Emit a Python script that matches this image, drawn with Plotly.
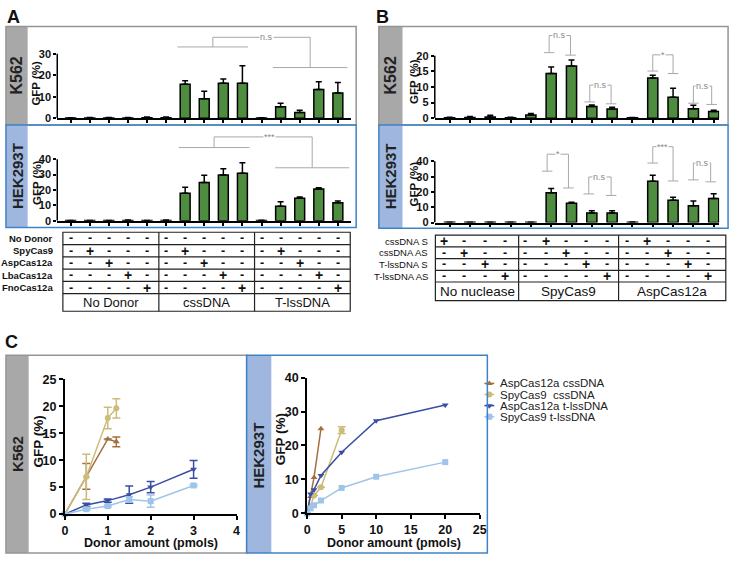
import plotly.graph_objects as go

W, H = 740, 564
FONT = "Liberation Sans, Arial, Helvetica, sans-serif"

GREEN = "#4e8c3f"
GREY_STRIP, GREY_LINE = "#a8a8a8", "#959595"
BLUE_STRIP, BLUE_LINE = "#9fb7de", "#3f83c6"
BRACKET = "#a8a8a8"
INK = "#111111"

# ---------- A : GFP (%) for 15 conditions ----------
a_rows = ["No Donor", "SpyCas9", "AspCas12a", "LbaCas12a", "FnoCas12a"]
a_groups = ["No Donor", "cssDNA", "T-lssDNA"]
a_signs = [
    "---------------",
    "-+----+----+---",
    "--+----+----+--",
    "---+----+----+-",
    "----+----+----+",
]
a_k562_mean = [0.05, 0.1, 0.1, 0.1, 0.2, 0.2, 15.8, 9.0, 16.3, 16.3, 0.1, 5.3, 2.6, 13.4, 11.7]
a_k562_err = [0.1, 0.2, 0.2, 0.2, 0.3, 0.3, 1.6, 3.5, 2.0, 8.1, 0.1, 1.7, 1.1, 3.6, 4.9]
a_hek_mean = [0.2, 0.2, 0.2, 0.3, 0.2, 0.3, 17.9, 24.8, 29.7, 30.9, 0.3, 9.5, 14.7, 20.6, 11.8]
a_hek_err = [0.1, 0.1, 0.1, 0.2, 0.1, 0.2, 3.8, 4.7, 4.0, 6.8, 0.1, 2.9, 0.7, 0.9, 1.0]
# label, (left span x0, x1, y), (right span x0, x1, y), top y, label x
a_k562_sig = ("n.s", (6.6, 10.3, 33.2), (11.6, 15.5, 23.6), 37.7, 11.25)
a_hek_sig = ("***", (6.66, 10.37, 47.5), (11.72, 15.59, 34.4), 54.4, 11.4)

# ---------- B : GFP (%) for 14 conditions ----------
b_rows = ["cssDNA S", "cssDNA AS", "T-lssDNA S", "T-lssDNA AS"]
b_groups = ["No nuclease", "SpyCas9", "AspCas12a"]
b_signs = [
    "+----+----+---",
    "-+----+----+--",
    "--+----+----+-",
    "---+----+----+",
]
b_k562_mean = [0.1, 0.2, 0.4, 0.1, 1.0, 14.3, 16.7, 3.75, 2.9, 0.1, 12.9, 6.7, 3.0, 2.1]
b_k562_err = [0.2, 0.3, 0.5, 0.2, 0.5, 2.1, 1.9, 0.45, 0.6, 0.1, 0.85, 2.9, 1.1, 0.4]
b_hek_mean = [0.1, 0.1, 0.1, 0.1, 0.1, 19.4, 12.6, 6.2, 6.2, 0.2, 27.0, 14.5, 10.9, 15.7]
b_hek_err = [0.1, 0.1, 0.1, 0.1, 0.1, 2.9, 0.6, 1.5, 1.5, 0.1, 3.9, 2.1, 3.1, 3.2]
# label, left leg x, right leg x, left foot y, right foot y, top y
b_k562_sig = [("n.s", 5.9, 6.95, 21.0, 20.2, 26.5), ("n.s", 7.9, 8.95, 5.2, 4.6, 10.6),
              ("*", 11.0, 12.0, 15.1, 14.3, 20.3), ("n.s", 13.0, 13.9, 4.8, 4.4, 10.3)]
b_hek_sig = [("*", 5.8, 6.85, 33.6, 22.6, 44.7), ("n.s", 7.85, 8.95, 18.7, 17.7, 29.8),
             ("***", 11.0, 12.0, 38.9, 27.2, 49.6), ("n.s", 13.0, 13.85, 27.9, 26.6, 38.9)]

# ---------- C : dose response ----------
c_names = ["AspCas12a cssDNA", "SpyCas9  cssDNA", "AspCas12a t-lssDNA", "SpyCas9 t-lssDNA"]
c_colors = ["#a3703b", "#cbbc7b", "#3a4ea3", "#9fc4ea"]
c_symbols = ["triangle-up", "circle", "triangle-down", "square"]
c_k562_x = [[0, 0.5, 1, 1.2], [0, 0.5, 1, 1.2], [0, 0.5, 1, 1.5, 2, 3], [0, 0.5, 1, 1.5, 2, 3]]
c_k562_y = [[0, 7.0, 13.9, 13.4], [0, 6.9, 17.8, 19.6],
            [0, 1.7, 2.5, 3.6, 5.0, 8.3], [0, 0.9, 1.5, 2.7, 2.4, 5.3]]
c_k562_e = [[0, 2.4, 0, 0.9], [0, 4.2, 2.0, 1.8],
            [0, 0.3, 0.3, 1.6, 1.05, 1.65], [0, 0.2, 0.2, 0.5, 1.15, 0.2]]
c_hek_x = [[0, 0.5, 1, 2], [0, 0.5, 1, 2, 5], [0, 0.5, 1, 2, 5, 10, 20], [0, 0.5, 1, 2, 5, 10, 20]]
c_hek_y = [[0, 5.0, 10.6, 24.9], [0, 2.2, 5.3, 7.7, 24.5],
           [0, 5.7, 7.0, 11.2, 18.0, 27.3, 31.9], [0, 1.5, 2.4, 3.8, 7.5, 10.8, 15.1]]
c_hek_e = [[0, 0, 0, 0], [0, 0, 0, 0, 1.0], [0] * 7, [0] * 7]

shapes, notes = [], []


def xdom(left, right):
    return [left / W, right / W]


def line(x0, y0, x1, y1, color=INK, width=1.2, xref="x7", yref="y7", layer="above"):
    shapes.append(dict(type="line", x0=x0, y0=y0, x1=x1, y1=y1, xref=xref, yref=yref,
                       layer=layer, line=dict(color=color, width=width)))


def box(x0, y0, x1, y1, color=None, fill=None, width=1.5):
    shapes.append(dict(type="rect", x0=x0, y0=y0, x1=x1, y1=y1, xref="x7", yref="y7",
                       line=dict(color=color or "rgba(0,0,0,0)", width=width if color else 0),
                       fillcolor=fill or "rgba(0,0,0,0)"))


def text(x, y, s, size, bold=False, color=INK, xref="x7", yref="y7", angle=0,
         xanchor="center", bg=None):
    d = dict(x=x, y=y, xref=xref, yref=yref, text=s, showarrow=False, textangle=angle,
             xanchor=xanchor, yanchor="middle",
             font=dict(size=size, color=color, family=FONT, weight="bold" if bold else "normal"))
    if bg:
        d.update(bgcolor=bg, borderpad=0)
    notes.append(d)


fig = go.Figure()

# ---------- frames ----------
for x0, y0, x1, y1, sx in [(3, 20, 358, 121, 25), (381, 20, 735, 121, 405), (3, 357, 247, 560, 26)]:
    box(x0, y0, sx, y1, fill=GREY_STRIP)
    box(x0, y0, x1, y1, color=GREY_LINE)
for x0, y0, x1, y1, sx in [(3, 121, 358, 226, 25), (381, 121, 735, 227, 405), (247, 357, 491, 560, 272)]:
    box(x0, y0, sx, y1, fill=BLUE_STRIP)
    box(x0, y0, x1, y1, color=BLUE_LINE)

for x, y, s, size in [(14, 70.5, "K562", 16), (14, 173.5, "HEK293T", 15), (393, 70.5, "K562", 16),
                      (393, 174, "HEK293T", 15), (14.5, 458, "K562", 15), (259.5, 460, "HEK293T", 15)]:
    text(x, y, s, size, bold=True, color="#222222", angle=-90)

for x, y, s in [(11, 10, "A"), (385, 10, "B"), (9, 344, "C")]:
    text(x, y, s, 18, bold=True)

# ---------- bar panels ----------
bar_axes = [
    dict(i="", mean=a_k562_mean, err=a_k562_err, xd=(55, 353), xr=(0.3, 15.7), y0=114, per=2.2,
         top=42, ticks=[0, 10, 20, 30], width=0.52),
    dict(i="2", mean=a_hek_mean, err=a_hek_err, xd=(55, 353), xr=(0.3, 15.7), y0=219.3, per=1.5825,
         top=58, ticks=[0, 10, 20, 30, 40], width=0.52),
    dict(i="3", mean=b_k562_mean, err=b_k562_err, xd=(437.7, 726), xr=(0.27, 14.27), y0=114, per=3.2,
         top=29, ticks=[0, 5, 10, 15, 20], width=0.5),
    dict(i="4", mean=b_hek_mean, err=b_hek_err, xd=(437.7, 726), xr=(0.27, 14.27), y0=221, per=1.5675,
         top=60, ticks=[0, 10, 20, 30, 40], width=0.5),
]
for p in bar_axes:
    n = len(p["mean"])
    xs = list(range(1, n + 1))
    i = p["i"]
    fig.add_trace(go.Bar(
        x=xs, y=p["mean"], width=p["width"], xaxis="x" + i, yaxis="y" + i,
        marker=dict(color=GREEN, line=dict(color="black", width=1.5)),
        error_y=dict(type="data", symmetric=False, array=p["err"], arrayminus=[0] * n,
                     color="black", thickness=1.5, width=3),
        hoverinfo="skip"))
    fig.update_layout(**{
        "xaxis" + i: dict(domain=xdom(*p["xd"]), range=list(p["xr"]), anchor="y" + i,
                          showline=True, linecolor="black", linewidth=1.5, ticks="outside",
                          ticklen=3, tickwidth=1.5, tickcolor="black", tickvals=xs,
                          showticklabels=False, showgrid=False, zeroline=False, fixedrange=True),
        "yaxis" + i: dict(domain=[1 - p["y0"] / H, 1 - (p["y0"] - p["per"] * p["top"]) / H],
                          range=[0, p["top"]], anchor="x" + i, showline=False, ticks="outside",
                          ticklen=3, tickwidth=1.5, tickcolor="black", tickvals=p["ticks"],
                          tickfont=dict(size=11, weight="bold", color=INK, family=FONT),
                          showgrid=False, zeroline=False, fixedrange=True),
    })
    line(0, 0, 0, p["ticks"][-1], color="black", width=1.5, xref="x" + i + " domain", yref="y" + i)

for x, y in [(34, 78), (34, 180), (416.5, 76), (416.5, 181)]:
    text(x, y, "GFP (%)", 11.5, bold=True, angle=-90)

# A brackets
for i, (lab, left, right, top, lx) in [("", a_k562_sig), ("2", a_hek_sig)]:
    xr, yr = "x" + i, "y" + i
    lm, rm = (left[0] + left[1]) / 2, (right[0] + right[1]) / 2
    line(left[0], left[2], left[1], left[2], BRACKET, 1, xr, yr)
    line(lm, left[2], lm, top, BRACKET, 1, xr, yr)
    line(lm, top, rm, top, BRACKET, 1, xr, yr)
    line(rm, top, rm, right[2], BRACKET, 1, xr, yr)
    line(right[0], right[2], right[1], right[2], BRACKET, 1, xr, yr)
    text(lx, top, lab, 9, color="#888888", xref=xr, yref=yr, bg="white")

# B brackets
for i, sigs in [("3", b_k562_sig), ("4", b_hek_sig)]:
    xr, yr = "x" + i, "y" + i
    for lab, xl, xrr, yl, yrr, yt in sigs:
        line(xl, yl, xl, yt, BRACKET, 1, xr, yr)
        line(xl, yt, xrr, yt, BRACKET, 1, xr, yr)
        line(xrr, yt, xrr, yrr, BRACKET, 1, xr, yr)
        line(xl - 0.26, yl, xl + 0.26, yl, BRACKET, 1, xr, yr)
        line(xrr - 0.26, yrr, xrr + 0.26, yrr, BRACKET, 1, xr, yr)
        text((xl + xrr) / 2, yt, lab, 9, color="#888888", xref=xr, yref=yr, bg="white")


# ---------- condition tables ----------
def table(axis, shift, rows, signs, groups, left, right, dividers, top, row_h, bottom,
          label_x, label_size, label_bold, group_size):
    ys = [top + k * row_h for k in range(len(rows) + 1)]
    box(left, top, right, bottom, color="#222222", width=1.2)
    for y in ys[1:]:
        line(left, y, right, y, "#222222", 1.2)
    for d in dividers:
        line(d, top, d, bottom, "#222222", 1.2)
    for r, (name, row) in enumerate(zip(rows, signs)):
        yc = (ys[r] + ys[r + 1]) / 2
        text(label_x, yc, name, label_size, bold=label_bold, xanchor="right")
        for c, s in enumerate(row):
            text(c + 1 + shift, yc, s, 14 if s == "+" else 12.5, bold=True, xref=axis)
    edges = [left] + dividers + [right]
    for g, name in enumerate(groups):
        text((edges[g] + edges[g + 1]) / 2, (ys[-1] + bottom) / 2, name, group_size)


table("x", 0, a_rows, a_signs, a_groups, 60.7, 352, [158, 255], 231, 12.6, 312, 53, 9.5, True, 13)
table("x3", -0.27, b_rows, b_signs, b_groups, 438.3, 732.7, [522.7, 624], 234, 12, 301, 433, 9.5, False, 13.5)

# ---------- C : line panels ----------
c_axes = [
    dict(i="5", xs=c_k562_x, ys=c_k562_y, es=c_k562_e, xd=(62.7, 236.7), xr=[0, 4], dx=1,
         y0=520, y1=381.7, yr=[0, 25], dy=5),
    dict(i="6", xs=c_hek_x, ys=c_hek_y, es=c_hek_e, xd=(308.3, 483.3), xr=[0, 25], dx=5,
         y0=519.3, y1=380, yr=[0, 40], dy=10),
]
for p in c_axes:
    i = p["i"]
    for k in range(4):
        err = None
        if any(e > 0 for e in p["es"][k]):
            err = dict(type="data", array=p["es"][k], color=c_colors[k], thickness=1.5, width=4)
        fig.add_trace(go.Scatter(
            x=p["xs"][k], y=p["ys"][k], mode="lines+markers", name=c_names[k],
            xaxis="x" + i, yaxis="y" + i, cliponaxis=False, error_y=err,
            line=dict(color=c_colors[k], width=1.5),
            marker=dict(symbol=c_symbols[k], size=6, color=c_colors[k]), hoverinfo="skip"))
    tick_font = dict(size=12.5, weight="bold", color=INK, family=FONT)
    fig.update_layout(**{
        "xaxis" + i: dict(domain=xdom(*p["xd"]), range=p["xr"], dtick=p["dx"], anchor="y" + i,
                          showline=True, linecolor="black", linewidth=2, ticks="outside",
                          ticklen=4, tickwidth=2, tickcolor="black", tickfont=tick_font,
                          showgrid=False, zeroline=False, fixedrange=True),
        "yaxis" + i: dict(domain=[1 - p["y0"] / H, 1 - p["y1"] / H], range=p["yr"], dtick=p["dy"],
                          anchor="x" + i, showline=True, linecolor="black", linewidth=2,
                          ticks="outside", ticklen=4, tickwidth=2, tickcolor="black",
                          tickfont=tick_font, showgrid=False, zeroline=False, fixedrange=True),
    })

for x, y in [(36, 446), (281, 443)]:
    text(x, y, "GFP (%)", 13.5, bold=True, angle=-90)
for x in [150, 396]:
    text(x, 550, "Donor amount (pmols)", 12.5, bold=True)

# legend for C
leg_y = [386 + 11.4 * k for k in range(4)]
fig.add_trace(go.Scatter(x=[493] * 4, y=leg_y, mode="markers", xaxis="x7", yaxis="y7",
                         marker=dict(symbol=c_symbols, color=c_colors, size=6),
                         cliponaxis=False, hoverinfo="skip"))
for k in range(4):
    line(488, leg_y[k], 498, leg_y[k], c_colors[k], 1.5, layer="below")
    text(502, leg_y[k], c_names[k], 11.5, xanchor="left", color="#222222")

fig.update_layout(
    width=W, height=H, margin=dict(l=0, r=0, t=0, b=0), autosize=False,
    paper_bgcolor="white", plot_bgcolor="rgba(0,0,0,0)", showlegend=False,
    font=dict(family=FONT, color=INK),
    xaxis7=dict(domain=[0, 1], range=[0, W], visible=False, anchor="y7", fixedrange=True),
    yaxis7=dict(domain=[0, 1], range=[H, 0], visible=False, anchor="x7", fixedrange=True),
    shapes=shapes, annotations=notes,
)

# the page's default body margin would shift the 740x564 figure; remove it
fig.write_html("out.html", config={"displayModeBar": False},
               post_script="document.body.style.margin = '0';")
